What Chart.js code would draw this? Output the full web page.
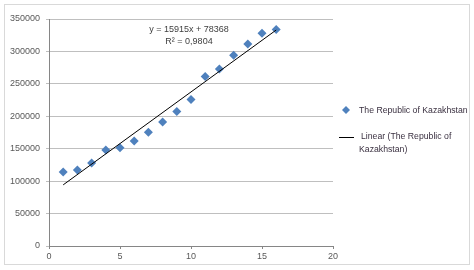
<!DOCTYPE html>
<html>
<head>
<meta charset="utf-8">
<script src="https://cdn.jsdelivr.net/npm/chart.js@4"></script>
<style>
  html, body { margin: 0; padding: 0; background: #fff; }
  #wrap { width: 474px; height: 270px; position: relative; }
</style>
</head>
<body>
<div id="wrap"><canvas id="chart" width="474" height="270"></canvas></div>
<script>
// data
const years = [1, 2, 3, 4, 5, 6, 7, 8, 9, 10, 11, 12, 13, 14, 15, 16];
const kazakhstan = [114000, 117000, 128000, 148000, 151500, 162000, 175500, 191000, 207500, 226000, 261500, 273000, 294000, 311500, 328000, 334000];
const trendX = [1, 16];
const trendY = [94283, 333008];
const seriesName = 'The Republic of Kazakhstan';
const trendName = ['Linear (The Republic of', 'Kazakhstan)'];
const equation = ['y = 15915x + 78368', 'R² = 0,9804'];

const font = '"Liberation Sans", Arial, sans-serif';
const tickColor = '#595959';

// frame, trend label and legend
const extras = {
  id: 'extras',
  beforeDraw(chart) {
    const c = chart.ctx;
    c.save();
    c.fillStyle = '#fff';
    c.fillRect(0, 0, chart.width, chart.height);
    c.strokeStyle = '#d9d9d9';
    c.lineWidth = 1;
    c.strokeRect(4.5, 4.5, 465, 260);
    c.restore();
  },
  afterDraw(chart) {
    const c = chart.ctx;
    c.save();
    c.font = '9px ' + font;
    c.fillStyle = '#404040';
    c.textAlign = 'center';
    c.textBaseline = 'middle';
    c.fillText(equation[0], 189, 30);
    c.fillText(equation[1], 189, 42);

    // legend
    c.font = '8.7px ' + font;
    c.textAlign = 'left';
    c.fillStyle = '#4F81BD';
    c.beginPath();
    c.moveTo(346, 106); c.lineTo(350, 110); c.lineTo(346, 114); c.lineTo(342, 110);
    c.closePath(); c.fill();
    c.fillStyle = '#3a3040';
    c.fillText(seriesName, 359, 111);

    c.strokeStyle = '#000';
    c.lineWidth = 1;
    c.beginPath();
    c.moveTo(339, 137.5); c.lineTo(354, 137.5);
    c.stroke();
    c.fillText(trendName[0], 361, 137);
    c.fillText(trendName[1], 359, 150);
    c.restore();
  }
};

new Chart(document.getElementById('chart'), {
  type: 'scatter',
  data: {
    datasets: [{
      label: seriesName,
      data: years.map((x, i) => ({ x: x, y: kazakhstan[i] })),
      pointStyle: 'rectRot',
      pointRadius: 4.5,
      backgroundColor: '#4F81BD',
      borderColor: '#4F81BD',
      borderWidth: 0,
      showLine: false
    }, {
      label: 'Linear',
      data: trendX.map((x, i) => ({ x: x, y: trendY[i] })),
      showLine: true,
      pointRadius: 0,
      borderColor: '#000',
      borderWidth: 1,
      order: -1
    }]
  },
  options: {
    responsive: false,
    animation: false,
    layout: { padding: { left: 5, top: 19, right: 141, bottom: 4 } },
    plugins: { legend: { display: false }, tooltip: { enabled: false } },
    scales: {
      x: {
        min: 0, max: 20,
        ticks: { stepSize: 5, color: tickColor, font: { family: font, size: 9 }, padding: 2, maxRotation: 0 },
        grid: { drawOnChartArea: false, drawTicks: true, tickLength: 3, color: '#868686' },
        border: { color: '#868686' },
        afterFit: s => { s.height = 20; }
      },
      y: {
        min: 0, max: 350000,
        ticks: { stepSize: 50000, color: tickColor, font: { family: font, size: 9 }, padding: 6,
          callback: v => String(v) },
        grid: { color: '#bfbfbf', tickLength: 3 },
        border: { color: '#868686' },
        afterFit: s => { s.width = 44; }
      }
    }
  },
  plugins: [extras]
});
</script>
</body>
</html>
